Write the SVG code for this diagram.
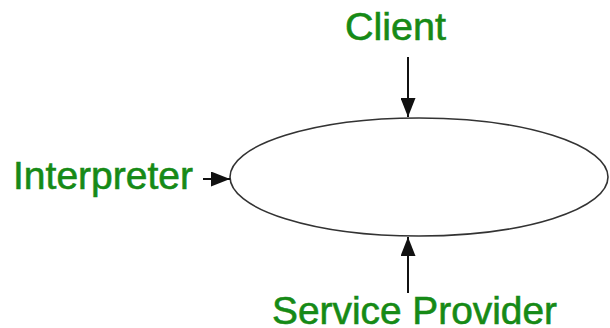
<svg xmlns="http://www.w3.org/2000/svg" width="610" height="328" viewBox="0 0 610 328">
  <style>
    .lbl { font-family: "Liberation Sans", Arial, sans-serif; font-size: 38px; fill: #168a16; stroke: #168a16; stroke-width: 0.6; }
    .conn { stroke: #111; stroke-width: 2; fill: none; }
  </style>
  <defs>
    <marker id="ahb" viewBox="0 0 10 10" refX="10" refY="5" markerWidth="19" markerHeight="15" markerUnits="userSpaceOnUse" orient="auto" preserveAspectRatio="none">
      <path d="M0,0 L10,5 L0,10 z" fill="#111"/>
    </marker>
  </defs>
  <rect width="610" height="328" fill="#ffffff"/>
  <g id="system">
    <ellipse cx="419" cy="177" rx="189" ry="59" fill="#ffffff" stroke="#333" stroke-width="1.6"/>
  </g>
  <g id="client">
    <text class="lbl" x="345" y="40" textLength="101" lengthAdjust="spacingAndGlyphs">Client</text>
  </g>
  <g id="interpreter">
    <text class="lbl" x="13" y="189" textLength="180" lengthAdjust="spacingAndGlyphs">Interpreter</text>
  </g>
  <g id="service-provider">
    <text class="lbl" x="272" y="324" textLength="285" lengthAdjust="spacingAndGlyphs">Service Provider</text>
  </g>
  <g id="connectors">
    <line class="conn" x1="408" y1="57" x2="408" y2="117" marker-end="url(#ahb)"/>
    <line class="conn" x1="203" y1="179" x2="230" y2="179" marker-end="url(#ahb)"/>
    <line class="conn" x1="408" y1="293" x2="408" y2="237" marker-end="url(#ahb)"/>
  </g>
</svg>
